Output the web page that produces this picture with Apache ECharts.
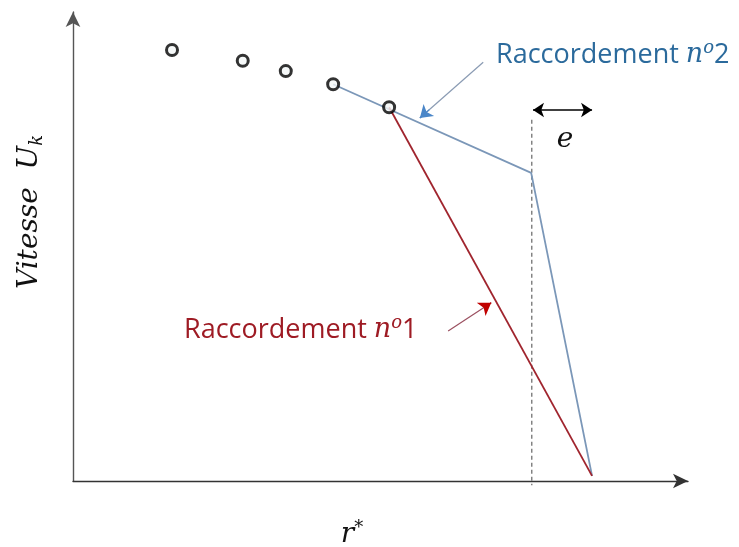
<!DOCTYPE html>
<html><head><meta charset="utf-8">
<script src="https://cdn.jsdelivr.net/npm/echarts@6/dist/echarts.min.js"></script>
<style>html,body{margin:0;padding:0;background:#fff}#c{width:739px;height:547px}</style>
</head><body><div id="c"></div>
<script>
// Data (arbitrary units: x and y 0..100)
const pointsX = [16.1, 27.6, 34.6, 42.3, 51.4];
const pointsY = [91.9, 89.6, 87.4, 84.6, 79.7];
const raccord2X = [42.3, 74.5, 84.4];
const raccord2Y = [84.6, 65.7, 1.1];
const raccord1X = [51.4, 84.4];
const raccord1Y = [79.7, 1.1];
const dashX = [74.6, 74.6];
const dashY = [77.0, -0.9];
const eArrowX = [74.8, 84.4];
const eArrowY = [79.1, 79.1];
const annot2X = [66.7, 56.4];
const annot2Y = [89.3, 77.4];
const annot1X = [61.0, 68.0];
const annot1Y = [32.0, 38.0];

const zip = (xs, ys) => xs.map((x, i) => [x, ys[i]]);
// short tail segment used only to carry the coloured arrow head
const tail = (xs, ys) => [[xs[1] - (xs[1] - xs[0]) * 0.15, ys[1] - (ys[1] - ys[0]) * 0.15], [xs[1], ys[1]]];

const chart = echarts.init(document.getElementById('c'));
const mkAxis = (color) => ({
  type: 'value', min: 0, max: 100,
  splitLine: {show: false}, axisLabel: {show: false}, axisTick: {show: false},
  axisLine: {show: true, onZero: false, symbol: ['none', 'arrow'], symbolSize: [11, 15],
    lineStyle: {color: color, width: 1.4}}
});
chart.setOption({
  animation: false,
  grid: {left: 73, right: 51, top: 12, bottom: 66},
  xAxis: mkAxis('#333'),
  yAxis: mkAxis('#555'),
  series: [
    {type: 'line', data: zip(dashX, dashY), symbol: 'none', clip: false,
      lineStyle: {color: '#666', width: 1.2, type: [4, 3]}, z: 1},
    {type: 'line', data: zip(raccord2X, raccord2Y), symbol: 'none', clip: false,
      lineStyle: {color: '#7b97b8', width: 1.8}, z: 2},
    {type: 'line', data: zip(raccord1X, raccord1Y), symbol: 'none', clip: false,
      lineStyle: {color: '#a0252e', width: 1.8}, z: 2},
    {type: 'scatter', data: zip(pointsX, pointsY), symbol: 'circle', symbolSize: 11,
      itemStyle: {color: '#f4f8f8', borderColor: '#000', borderWidth: 3}, z: 5},
    {type: 'lines', coordinateSystem: 'cartesian2d', symbol: ['arrow', 'arrow'], symbolSize: 11,
      lineStyle: {color: '#000', width: 1.6, opacity: 1},
      data: [{coords: zip(eArrowX, eArrowY)}], z: 4},
    {type: 'lines', coordinateSystem: 'cartesian2d', symbol: ['none', 'none'],
      lineStyle: {color: '#8a9bb3', width: 1.2, opacity: 1},
      data: [{coords: zip(annot2X, annot2Y)}], z: 4},
    {type: 'lines', coordinateSystem: 'cartesian2d', symbol: ['none', 'arrow'], symbolSize: 12,
      lineStyle: {color: '#4a86c8', width: 1.2, opacity: 1},
      data: [{coords: tail(annot2X, annot2Y)}], z: 4},
    {type: 'lines', coordinateSystem: 'cartesian2d', symbol: ['none', 'none'],
      lineStyle: {color: '#9b5060', width: 1.2, opacity: 1},
      data: [{coords: zip(annot1X, annot1Y)}], z: 4},
    {type: 'lines', coordinateSystem: 'cartesian2d', symbol: ['none', 'arrow'], symbolSize: 12,
      lineStyle: {color: '#c00000', width: 1.2, opacity: 1},
      data: [{coords: tail(annot1X, annot1Y)}], z: 4}
  ],
  graphic: [
    {type: 'text', x: 30, y: 212, rotation: Math.PI / 2,
      style: {text: '{a|Vitesse  U}{b|k}', align: 'center', verticalAlign: 'middle',
        rich: {a: {fontFamily: 'DejaVu Serif', fontStyle: 'italic', fontSize: 28, fill: '#111'},
               b: {fontFamily: 'DejaVu Serif', fontStyle: 'italic', fontSize: 18, fill: '#111', padding: [15, 0, 0, 0]}}}},
    {type: 'text', x: 352, y: 535,
      style: {text: '{a|r}{b|*}', align: 'center', verticalAlign: 'middle',
        rich: {a: {fontFamily: 'DejaVu Serif', fontStyle: 'italic', fontSize: 28, fill: '#111'},
               b: {fontFamily: 'DejaVu Serif', fontSize: 18, fill: '#111', padding: [0, 0, 14, 0]}}}},
    {type: 'text', x: 565, y: 140,
      style: {text: 'e', align: 'center', verticalAlign: 'middle',
        font: 'italic 28px "DejaVu Serif"', fill: '#111'}},
    {type: 'text', x: 496, y: 55,
      style: {text: '{t|Raccordement }{n|n}{o|o}{d|2}', align: 'left', verticalAlign: 'middle',
        rich: {t: {fontFamily: 'Open Sans', fontSize: 27, fill: '#2b6a9c'},
               n: {fontFamily: 'DejaVu Serif', fontStyle: 'italic', fontSize: 27, fill: '#2b6a9c'},
               o: {fontFamily: 'DejaVu Serif', fontStyle: 'italic', fontSize: 18, fill: '#2b6a9c', padding: [0, 0, 14, 0]},
               d: {fontFamily: 'Open Sans', fontSize: 27, fill: '#2b6a9c'}}}},
    {type: 'text', x: 184, y: 330,
      style: {text: '{t|Raccordement }{n|n}{o|o}{d|1}', align: 'left', verticalAlign: 'middle',
        rich: {t: {fontFamily: 'Open Sans', fontSize: 27, fill: '#9e1b24'},
               n: {fontFamily: 'DejaVu Serif', fontStyle: 'italic', fontSize: 27, fill: '#9e1b24'},
               o: {fontFamily: 'DejaVu Serif', fontStyle: 'italic', fontSize: 18, fill: '#9e1b24', padding: [0, 0, 14, 0]},
               d: {fontFamily: 'Open Sans', fontSize: 27, fill: '#9e1b24'}}}}
  ]
});
</script></body></html>
